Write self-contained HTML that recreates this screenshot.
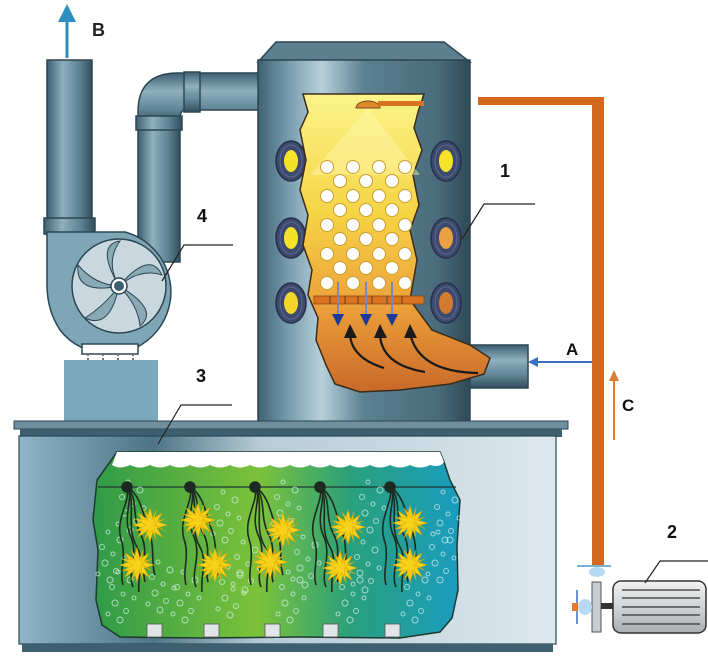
<!DOCTYPE html>
<html><head><meta charset="utf-8"><style>
html,body{margin:0;padding:0;background:#fff;}
svg{display:block;}
text{font-family:"Liberation Sans",sans-serif;font-weight:bold;}
</style></head><body>
<svg width="708" height="671" viewBox="0 0 708 671" xmlns="http://www.w3.org/2000/svg">
<defs>
<linearGradient id="pipeV" x1="0" x2="1" y1="0" y2="0">
<stop offset="0" stop-color="#3d5f70"/><stop offset="0.35" stop-color="#8fb0c0"/><stop offset="0.7" stop-color="#5f8596"/><stop offset="1" stop-color="#344f5e"/></linearGradient>
<linearGradient id="pipeH" x1="0" x2="0" y1="0" y2="1">
<stop offset="0" stop-color="#3d5f70"/><stop offset="0.35" stop-color="#8fb0c0"/><stop offset="0.7" stop-color="#5f8596"/><stop offset="1" stop-color="#344f5e"/></linearGradient>
<linearGradient id="tower" x1="0" x2="1" y1="0" y2="0">
<stop offset="0" stop-color="#3e6272"/><stop offset="0.15" stop-color="#7a9fb0"/><stop offset="0.3" stop-color="#b8d0db"/><stop offset="0.5" stop-color="#5b8192"/><stop offset="0.85" stop-color="#4a6b7b"/><stop offset="1" stop-color="#2f4956"/></linearGradient>
<linearGradient id="inner" x1="0" x2="0" y1="0" y2="1">
<stop offset="0" stop-color="#fbf48a"/><stop offset="0.4" stop-color="#f6d445"/><stop offset="0.7" stop-color="#eda23a"/><stop offset="1" stop-color="#c9692a"/></linearGradient>
<linearGradient id="tank" x1="0" x2="1" y1="0" y2="0">
<stop offset="0" stop-color="#8fb5c6"/><stop offset="0.25" stop-color="#4d7486"/><stop offset="0.45" stop-color="#b7ccd6"/><stop offset="1" stop-color="#dde8ee"/></linearGradient>
<linearGradient id="water" x1="0" x2="1" y1="0" y2="0">
<stop offset="0" stop-color="#2f9a48"/><stop offset="0.45" stop-color="#7cc23a"/><stop offset="0.7" stop-color="#2aa07a"/><stop offset="1" stop-color="#1a9cc0"/></linearGradient>
<linearGradient id="motor" x1="0" x2="0" y1="0" y2="1">
<stop offset="0" stop-color="#f2f2f2"/><stop offset="0.5" stop-color="#d0d4d6"/><stop offset="1" stop-color="#a9aeb1"/></linearGradient>
<g id="star" fill="#f7d21a" stroke="#e0a800" stroke-width="0.6">
<polygon points="0,-17 3,-6 12,-12 7,-3 17,0 7,3 12,12 3,6 0,17 -3,6 -12,12 -7,3 -17,0 -7,-3 -12,-12 -3,-6"/>
<polygon points="6,-15 2,-5 -6,-15 -2,-5 -15,-6 -4,0 -15,6 -2,5 -6,15 2,5 6,15 4,0 15,6 5,-1 15,-6 4,-3" opacity="0.9"/>
</g>
<g id="bub" fill="none" stroke="#d8f2f0" stroke-width="1" opacity="0.7">
<circle cx="0" cy="0" r="3"/><circle cx="6" cy="-9" r="2.5"/><circle cx="-5" cy="-17" r="3"/><circle cx="3" cy="-26" r="2"/><circle cx="-8" cy="-33" r="2.5"/><circle cx="10" cy="-40" r="3"/><circle cx="-2" cy="-48" r="2"/><circle cx="14" cy="-22" r="2"/><circle cx="-12" cy="-6" r="2"/>
</g>
<g id="hairs" fill="none" stroke="#1d2a22" stroke-width="1.6">
<path d="M0,0 C8,10 -6,30 4,50 C12,70 0,85 6,100"/>
<path d="M0,0 C12,12 4,30 14,48 C22,64 14,80 18,95"/>
<path d="M0,0 C4,14 -12,32 -6,52 C0,70 -8,84 -4,98"/>
<path d="M0,0 C14,8 16,28 22,44 C28,60 24,78 28,88"/>
<path d="M0,0 C10,16 -2,40 10,60 C18,75 10,90 12,105"/>
<circle cx="0" cy="0" r="5" fill="#1d2a22"/>
</g>
<g id="port">
<ellipse cx="0" cy="0" rx="15" ry="20" fill="#3d4a6e" stroke="#263049" stroke-width="1.5"/>
<ellipse cx="0" cy="0" rx="11" ry="16" fill="none" stroke="#5a6890" stroke-width="1"/>
</g>
</defs>

<line x1="67" y1="58" x2="67" y2="18" stroke="#2a8fc0" stroke-width="3"/>
<polygon points="58,22 67,4 76,22" fill="#2a8fc0"/>
<text x="92" y="36" font-size="18" fill="#222">B</text>

<rect x="47" y="60" width="45" height="175" fill="url(#pipeV)" stroke="#2c4654" stroke-width="1.5"/>
<rect x="44" y="218" width="51" height="16" fill="url(#pipeV)" stroke="#2c4654" stroke-width="1.5"/>

<rect x="138" y="122" width="42" height="140" fill="url(#pipeV)" stroke="#2c4654" stroke-width="1.5"/>
<path d="M138,125 L138,112 Q138,73 178,73 L260,73 L260,110 L185,110 Q180,110 180,120 L180,125 Z" fill="url(#pipeH)" stroke="#2c4654" stroke-width="1.5"/>
<rect x="184" y="72" width="16" height="40" fill="url(#pipeH)" stroke="#2c4654" stroke-width="1.5"/>
<rect x="136" y="116" width="46" height="14" fill="url(#pipeV)" stroke="#2c4654" stroke-width="1.5"/>

<path d="M47,232 L125,232 A62,62 0 1 1 60,330 Q47,310 47,285 Z" fill="#7ea6b6" stroke="#2c4654" stroke-width="1.5"/>
<circle cx="119" cy="286" r="47" fill="#c9d8de" stroke="#2c4654" stroke-width="1.5"/>
<g fill="#8aa9b6" stroke="#2c4654" stroke-width="1">
<path d="M119,286 Q95,245 120,241 Q105,262 119,286Z"/>
<path d="M119,286 Q150,250 162,275 Q140,268 119,286Z"/>
<path d="M119,286 Q160,310 140,326 Q138,305 119,286Z"/>
<path d="M119,286 Q110,330 85,318 Q105,305 119,286Z"/>
<path d="M119,286 Q75,295 78,265 Q95,285 119,286Z"/>
</g>
<circle cx="119" cy="286" r="8" fill="#fff" stroke="#2c4654" stroke-width="1.5"/>
<circle cx="119" cy="286" r="5" fill="#3d5f70"/>
<rect x="82" y="344" width="56" height="10" fill="#fff" stroke="#2c4654" stroke-width="1.5"/>
<g stroke="#777" stroke-width="2" stroke-dasharray="2,2"><line x1="88" y1="354" x2="88" y2="362"/><line x1="103" y1="354" x2="103" y2="362"/><line x1="118" y1="354" x2="118" y2="362"/><line x1="133" y1="354" x2="133" y2="362"/></g>
<rect x="64" y="360" width="94" height="62" fill="#7aa9bc"/>

<text x="197" y="222" font-size="18" fill="#111">4</text>
<polyline points="233,245 184,245 162,281" fill="none" stroke="#222" stroke-width="1.2"/>
<text x="196" y="382" font-size="18" fill="#111">3</text>

<polygon points="276,42 444,42 470,62 258,62" fill="#5d7f90" stroke="#2c4654" stroke-width="1.5"/>
<rect x="258" y="60" width="212" height="362" fill="url(#tower)" stroke="#2c4654" stroke-width="1.5"/>
<use href="#port" x="291" y="161"/><use href="#port" x="291" y="238"/><use href="#port" x="291" y="303"/>
<use href="#port" x="446" y="161"/><use href="#port" x="446" y="238"/><use href="#port" x="446" y="303"/>
<g>
<ellipse cx="291" cy="161" rx="7" ry="11" fill="#f7e22a"/><ellipse cx="291" cy="238" rx="7" ry="11" fill="#f7e22a"/><ellipse cx="291" cy="303" rx="7" ry="11" fill="#f2d62a"/>
<ellipse cx="446" cy="161" rx="7" ry="11" fill="#f7e22a"/><ellipse cx="446" cy="238" rx="7" ry="11" fill="#e8a040"/><ellipse cx="446" cy="303" rx="7" ry="11" fill="#d27a30"/>
</g>
<rect x="470" y="345" width="58" height="43" fill="url(#pipeH)" stroke="#2c4654" stroke-width="1.5"/>
<path d="M303,94 L424,94 L418,112 L414,128 L422,150 L413,175 L419,205 L410,230 L417,260 L410,300 L432,330 L470,345 L490,358 L484,374 L450,384 L400,390 L360,392 L335,384 L326,365 L316,340 L318,318 L308,295 L312,270 L303,245 L308,215 L300,190 L306,160 L300,130 L308,112 Z" fill="url(#inner)" stroke="#3a2c1a" stroke-width="1.5"/>
<polygon points="368,108 310,175 420,175" fill="#fff9b0" opacity="0.45"/>
<path d="M356,108 A12,7 0 0 1 380,108 Z" fill="#e08a2c" stroke="#7a4a1a" stroke-width="1"/>
<rect x="378" y="101" width="46" height="5" fill="#d9731f"/>
<g fill="#fff" stroke="#c8a030" stroke-width="1">
<circle cx="327" cy="167" r="6.5"/><circle cx="353" cy="167" r="6.5"/><circle cx="379" cy="167" r="6.5"/><circle cx="405" cy="167" r="6.5"/>
<circle cx="340" cy="181" r="6.5"/><circle cx="366" cy="181" r="6.5"/><circle cx="392" cy="181" r="6.5"/>
<circle cx="327" cy="196" r="6.5"/><circle cx="353" cy="196" r="6.5"/><circle cx="379" cy="196" r="6.5"/><circle cx="405" cy="196" r="6.5"/>
<circle cx="340" cy="210" r="6.5"/><circle cx="366" cy="210" r="6.5"/><circle cx="392" cy="210" r="6.5"/>
<circle cx="327" cy="225" r="6.5"/><circle cx="353" cy="225" r="6.5"/><circle cx="379" cy="225" r="6.5"/><circle cx="405" cy="225" r="6.5"/>
<circle cx="340" cy="239" r="6.5"/><circle cx="366" cy="239" r="6.5"/><circle cx="392" cy="239" r="6.5"/>
<circle cx="327" cy="254" r="6.5"/><circle cx="353" cy="254" r="6.5"/><circle cx="379" cy="254" r="6.5"/><circle cx="405" cy="254" r="6.5"/>
<circle cx="340" cy="268" r="6.5"/><circle cx="366" cy="268" r="6.5"/><circle cx="392" cy="268" r="6.5"/>
<circle cx="327" cy="283" r="6.5"/><circle cx="353" cy="283" r="6.5"/><circle cx="379" cy="283" r="6.5"/><circle cx="405" cy="283" r="6.5"/>
</g>
<rect x="314" y="296" width="110" height="8" fill="#d9731f" stroke="#8a4a1a" stroke-width="0.8"/>
<g stroke="#6a3a14" stroke-width="1"><line x1="330" y1="296" x2="330" y2="304"/><line x1="345" y1="296" x2="345" y2="304"/><line x1="358" y1="296" x2="358" y2="304"/><line x1="372" y1="296" x2="372" y2="304"/><line x1="387" y1="296" x2="387" y2="304"/><line x1="402" y1="296" x2="402" y2="304"/></g>
<g stroke="#7a88c0" stroke-width="2"><line x1="338" y1="282" x2="338" y2="316"/><line x1="366" y1="282" x2="366" y2="316"/><line x1="392" y1="282" x2="392" y2="316"/></g>
<g fill="#1a3a9a"><polygon points="332,314 344,314 338,326"/><polygon points="360,314 372,314 366,326"/><polygon points="386,314 398,314 392,326"/></g>
<g fill="none" stroke="#1a1a1a" stroke-width="2.2">
<path d="M384,368 Q352,358 350,335"/><path d="M425,372 Q382,365 380,335"/><path d="M478,373 Q418,372 410,333"/>
</g>
<g fill="#1a1a1a"><polygon points="344,338 350,324 357,338"/><polygon points="374,338 380,324 387,338"/><polygon points="404,338 410,324 417,338"/></g>

<text x="500" y="177" font-size="18" fill="#111">1</text>
<polyline points="535,204 484,204 462,239" fill="none" stroke="#222" stroke-width="1.2"/>

<rect x="478" y="97" width="126" height="8" fill="#d2691e"/>
<rect x="592" y="97" width="12" height="468" fill="#d2691e"/>
<line x1="592" y1="362" x2="534" y2="362" stroke="#3a6fc0" stroke-width="2"/>
<polygon points="528,362 538,357 538,367" fill="#3a6fc0"/>
<text x="566" y="355" font-size="17" fill="#111" font-weight="normal">A</text>
<line x1="614" y1="440" x2="614" y2="378" stroke="#e07a30" stroke-width="2"/>
<polygon points="609,381 614,370 619,381" fill="#e07a30"/>
<text x="622" y="411" font-size="17" fill="#111" font-weight="normal">C</text>

<rect x="14" y="421" width="554" height="8" fill="#6f8f9e" stroke="#2c4654" stroke-width="1"/>
<rect x="20" y="429" width="542" height="8" fill="#3d5f70"/>
<rect x="19" y="436" width="537" height="208" fill="url(#tank)" stroke="#2c4654" stroke-width="1.2"/>
<rect x="22" y="644" width="531" height="8" fill="#3d5f70"/>
<path d="M117,452 L440,452 L444,462 L450,480 L460,500 L457,545 L458,590 L452,618 L440,632 L400,638 L300,637 L200,638 L120,637 L102,625 L96,600 L98,550 L93,520 L97,480 L110,462 Z" fill="url(#water)" stroke="#1e3a30" stroke-width="1.5"/>
<path d="M117,452 L440,452 L444,462 Q440,468 430,465 Q420,470 410,465 Q400,470 390,465 Q380,470 370,465 Q360,470 350,465 Q340,470 330,465 Q320,470 310,465 Q300,470 290,465 Q280,470 270,465 Q260,470 250,465 Q240,470 230,465 Q220,470 210,465 Q200,470 190,465 Q180,470 170,465 Q160,470 150,465 Q140,470 130,465 Q120,470 112,465 Z" fill="#fff"/>
<line x1="98" y1="487" x2="456" y2="487" stroke="#1e3a30" stroke-width="1.2"/>
<g>
<use href="#bub" x="120" y="620"/><use href="#bub" x="160" y="610"/><use href="#bub" x="110" y="580"/><use href="#bub" x="185" y="620"/>
<use href="#bub" x="230" y="615"/><use href="#bub" x="245" y="590"/><use href="#bub" x="290" y="620"/><use href="#bub" x="305" y="585"/>
<use href="#bub" x="350" y="620"/><use href="#bub" x="365" y="590"/><use href="#bub" x="415" y="620"/><use href="#bub" x="440" y="580"/>
<use href="#bub" x="130" y="530"/><use href="#bub" x="225" y="540"/><use href="#bub" x="285" y="530"/><use href="#bub" x="370" y="530"/><use href="#bub" x="445" y="540"/>
</g>
<use href="#hairs" x="127" y="487"/><use href="#hairs" x="190" y="487"/><use href="#hairs" x="255" y="487"/><use href="#hairs" x="320" y="487"/><use href="#hairs" x="390" y="487"/>
<use href="#star" x="150" y="525"/><use href="#star" x="137" y="565"/>
<use href="#star" x="198" y="520"/><use href="#star" x="215" y="565"/>
<use href="#star" x="283" y="530"/><use href="#star" x="270" y="562"/>
<use href="#star" x="348" y="527"/><use href="#star" x="340" y="568"/>
<use href="#star" x="410" y="523"/><use href="#star" x="410" y="565"/>
<g fill="#e0e6e8" stroke="#555" stroke-width="0.8">
<rect x="147" y="624" width="15" height="13"/><rect x="204" y="624" width="15" height="13"/><rect x="265" y="624" width="15" height="13"/><rect x="323" y="624" width="15" height="13"/><rect x="385" y="624" width="15" height="13"/>
</g>

<polyline points="232,405 181,405 158,444" fill="none" stroke="#222" stroke-width="1.2"/>

<line x1="577" y1="566" x2="611" y2="566" stroke="#7ab0d8" stroke-width="2"/>
<ellipse cx="597" cy="572" rx="8" ry="5" fill="#b8d8f4"/>
<rect x="592" y="582" width="9" height="50" fill="#c8cccf" stroke="#555" stroke-width="1"/>
<ellipse cx="585" cy="607" rx="7" ry="8" fill="#b8d8f4"/>
<line x1="577" y1="590" x2="577" y2="624" stroke="#3a6fc0" stroke-width="1.5"/>
<rect x="572" y="603" width="6" height="8" fill="#e07a30"/>
<rect x="601" y="603" width="13" height="6" fill="#333"/>
<rect x="613" y="581" width="93" height="52" rx="8" fill="url(#motor)" stroke="#333" stroke-width="1.5"/>
<g stroke="#333" stroke-width="1.2"><line x1="622" y1="590" x2="700" y2="590"/><line x1="622" y1="598" x2="700" y2="598"/><line x1="622" y1="607" x2="700" y2="607"/><line x1="622" y1="615" x2="700" y2="615"/><line x1="622" y1="624" x2="700" y2="624"/></g>
<text x="667" y="538" font-size="18" fill="#111">2</text>
<polyline points="708,561 660,561 645,583" fill="none" stroke="#222" stroke-width="1.2"/>
</svg>
</body></html>
